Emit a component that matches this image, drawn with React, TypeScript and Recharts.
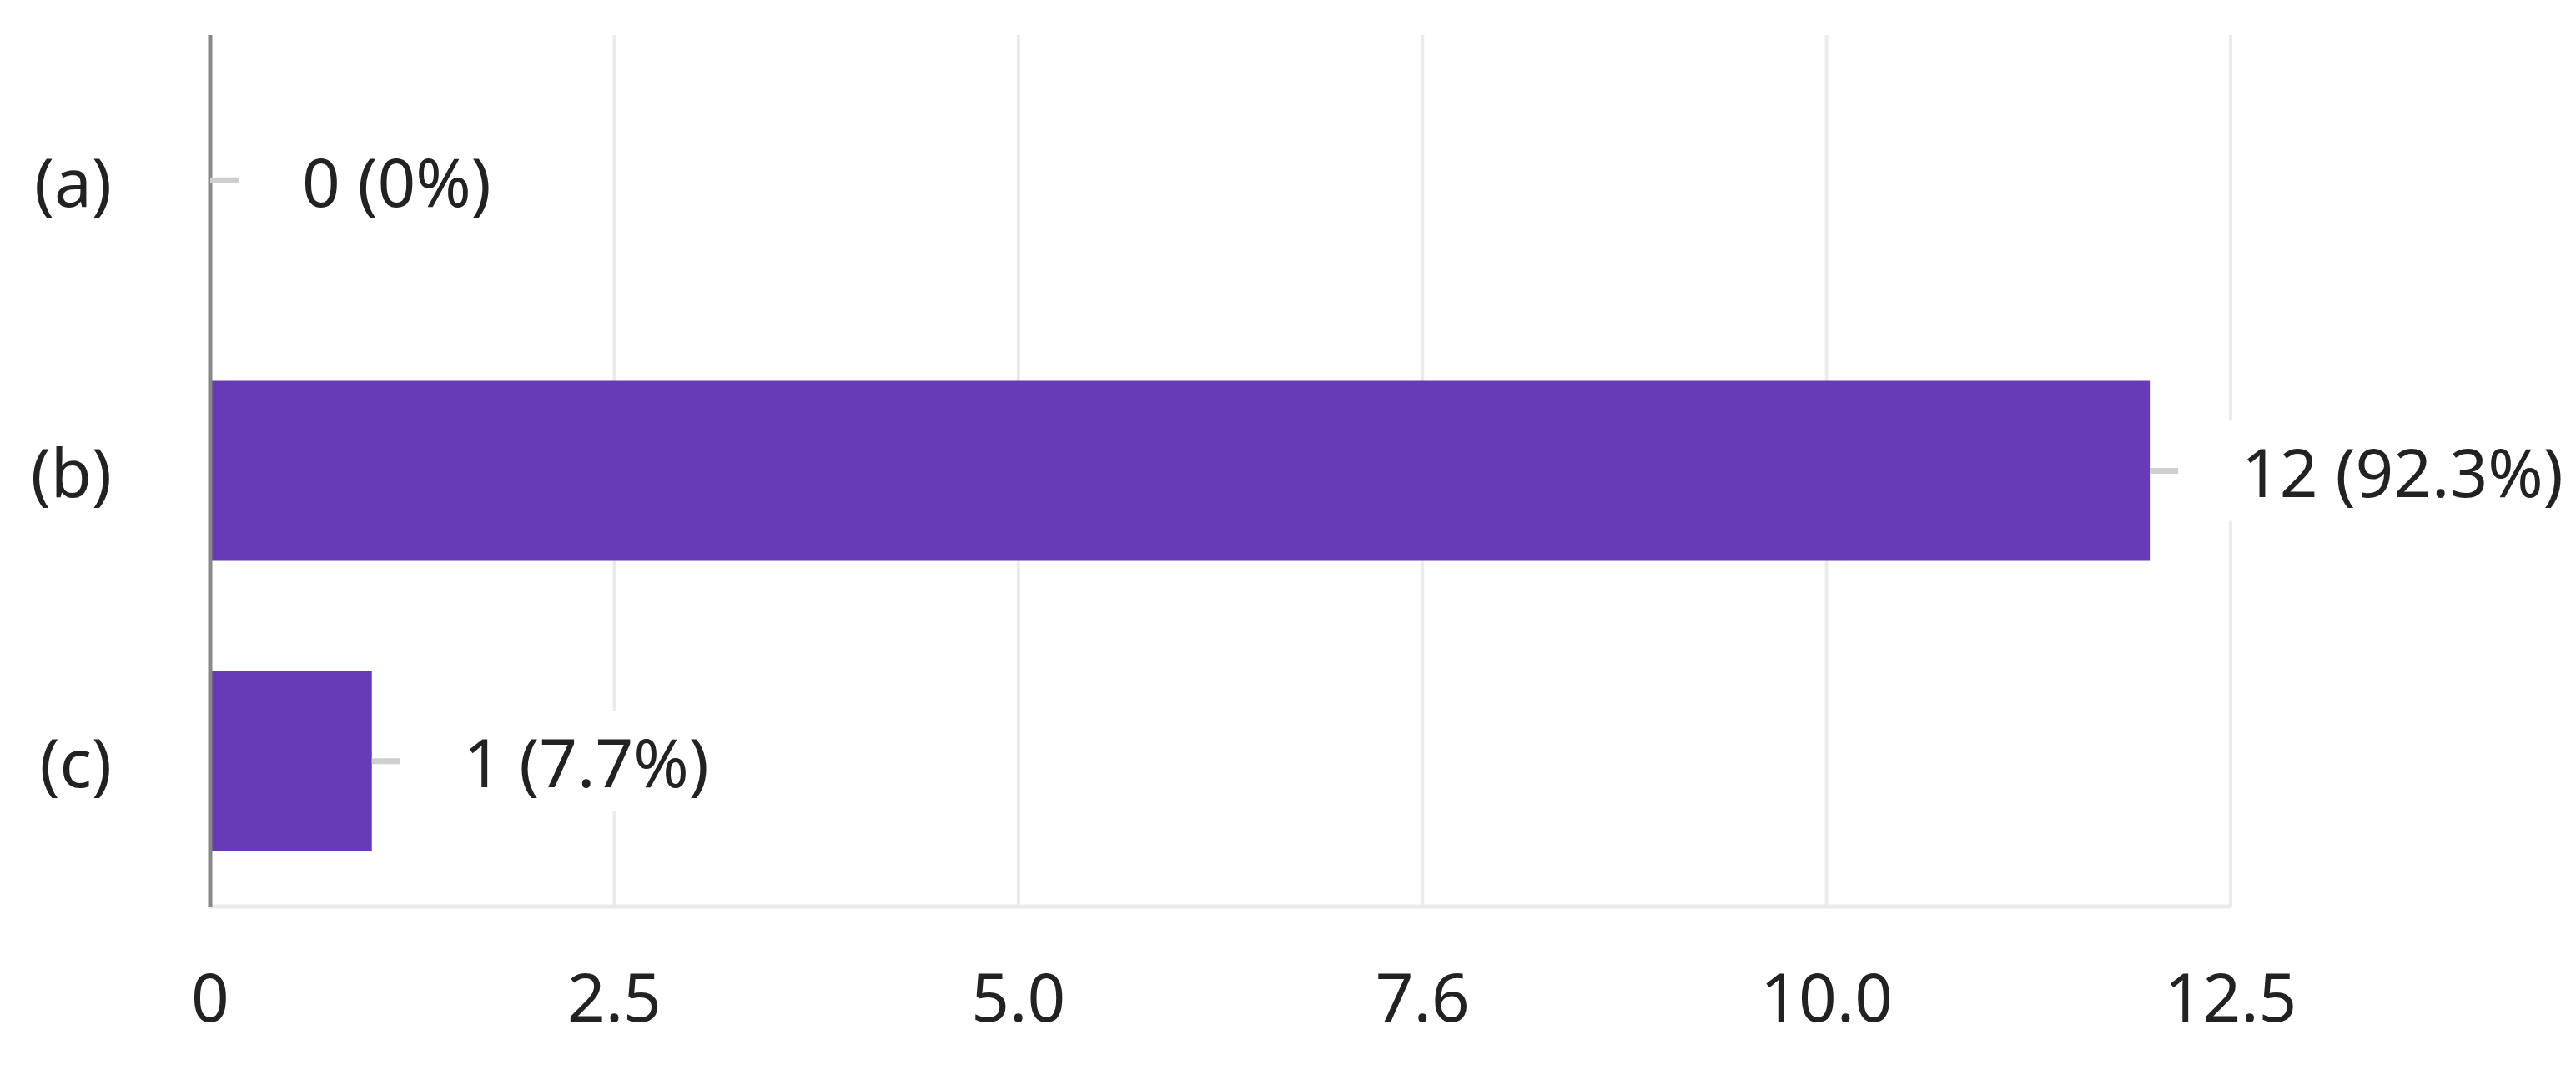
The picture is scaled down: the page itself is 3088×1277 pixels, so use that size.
import * as React from "react"
import { ComposedChart, Bar, Scatter, XAxis, YAxis, CartesianGrid } from "recharts"

const categories = ["(a)", "(b)", "(c)"]
const counts = [0, 12, 1]
const percents = [0, 92.3, 7.7]
const tickValues = [0, 2.5, 5, 7.5, 10, 12.5]
const tickLabels = ["0", "2.5", "5.0", "7.6", "10.0", "12.5"]

const FONT = "'Noto Sans', 'Open Sans', sans-serif"
const FS = 80

const data = categories.map((name, i) => ({
  name,
  count: counts[i],
  label: `${counts[i]} (${percents[i]}%)`,
}))

function XTick(props: any) {
  const { x, y, payload } = props
  const i = tickValues.indexOf(payload.value)
  return (
    <text x={x} y={y + 98} textAnchor="middle" dominantBaseline="central" fontFamily={FONT} fontSize={FS} fill="#222">
      {i >= 0 ? tickLabels[i] : payload.value}
    </text>
  )
}

function YTick(props: any) {
  const { y, payload } = props
  return (
    <text x={134} y={y} textAnchor="end" dominantBaseline="central" fontFamily={FONT} fontSize={FS} fill="#222">
      {payload.value}
    </text>
  )
}

// leader dash + value text at the end of each bar (drawn as a scatter so the 0 bar gets one too)
function ValueLabel(props: any) {
  const { cx, cy, payload } = props
  const txt = payload.label
  const tw = txt.length * FS * 0.5
  return (
    <g>
      <line x1={cx} y1={cy} x2={cx + 34} y2={cy} stroke="#cfcfcf" strokeWidth={7} />
      <rect x={cx + 95} y={cy - 60} width={tw + 30} height={120} fill="#fff" />
      <text x={cx + 110} y={cy} dominantBaseline="central" fontFamily={FONT} fontSize={FS} fill="#222">
        {txt}
      </text>
    </g>
  )
}

export default function App() {
  return (
    <div style={{ position: "fixed", left: 0, top: 0, background: "#fff" }}>
      <ComposedChart
        width={3088}
        height={1277}
        data={data}
        layout="vertical"
        barCategoryGap="19%"
        margin={{ top: 42, right: 414, bottom: 160, left: 0 }}
      >
        <CartesianGrid horizontal={false} vertical={true} stroke="#ebebeb" strokeWidth={4} />
        <XAxis
          type="number"
          domain={[0, 12.5]}
          ticks={tickValues}
          interval={0}
          tick={<XTick />}
          tickLine={false}
          axisLine={{ stroke: "#ebebeb", strokeWidth: 5 }}
        />
        <YAxis
          type="category"
          dataKey="name"
          width={252}
          tick={<YTick />}
          tickLine={false}
          axisLine={{ stroke: "#888", strokeWidth: 5 }}
        />
        <Bar dataKey="count" fill="#673ab7" isAnimationActive={false} />
        <Scatter dataKey="count" shape={<ValueLabel />} isAnimationActive={false} />
      </ComposedChart>
    </div>
  )
}
